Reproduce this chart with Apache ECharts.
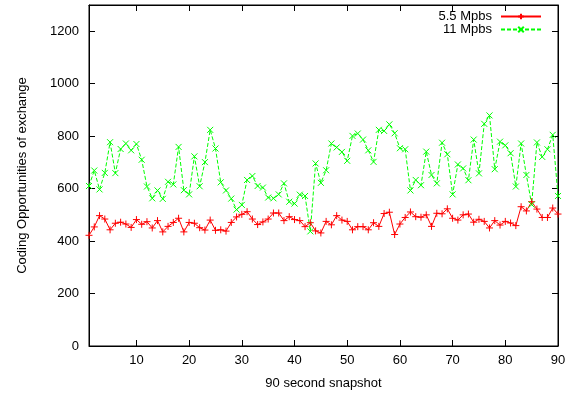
<!DOCTYPE html>
<html>
<head>
<meta charset="utf-8">
<script src="https://cdn.jsdelivr.net/npm/echarts@6/dist/echarts.min.js"></script>
<style>
  html, body { margin: 0; padding: 0; background: #fff; }
  #chart { width: 580px; height: 399px; }
</style>
</head>
<body>
<div id="chart"></div>
<script>
// snapshot index 1..90
const snapshots = Array.from({ length: 90 }, (_, i) => i + 1);

const rate55 = [
  422, 454, 497, 484, 443, 468, 472, 465, 452, 482,
  464, 474, 450, 478, 435, 456, 471, 487, 435, 471,
  468, 451, 442, 480, 441, 443, 438, 471, 492, 502,
  512, 484, 463, 473, 484, 507, 507, 478, 493, 482,
  478, 455, 470, 439, 431, 475, 462, 497, 480, 475,
  443, 455, 455, 443, 470, 456, 505, 510, 425, 465,
  490, 511, 493, 491, 500, 456, 506, 504, 523, 487,
  480, 500, 503, 472, 483, 475, 450, 478, 461, 475,
  469, 459, 531, 515, 550, 522, 490, 490, 526, 503
];

const rate11 = [
  610, 669, 597, 660, 777, 659, 751, 772, 746, 770,
  710, 608, 563, 593, 561, 626, 616, 759, 594, 578,
  723, 609, 701, 824, 753, 624, 593, 562, 520, 538,
  633, 648, 610, 604, 566, 563, 578, 620, 550, 543,
  577, 572, 437, 696, 622, 670, 772, 757, 740, 706,
  801, 810, 787, 746, 702, 824, 820, 845, 811, 754,
  750, 593, 633, 613, 741, 652, 620, 775, 731, 578,
  692, 677, 632, 787, 658, 847, 879, 674, 779, 765,
  735, 608, 772, 652, 539, 776, 721, 750, 805, 572
];

const xTicks = [10, 20, 30, 40, 50, 60, 70, 80, 90];
const yTicks = [0, 200, 400, 600, 800, 1000, 1200];

const font = "'Liberation Sans', Arial, Helvetica, sans-serif";
const plusSym = 'path://M0,5L10,5M5,0L5,10';
const crossSym = 'path://M0,0L10,10M10,0L0,10';

const chart = echarts.init(document.getElementById('chart'));

const frameAxis = (extra) => Object.assign({
  type: 'value',
  axisLine: { show: true, onZero: false, lineStyle: { color: '#000', width: 1 } },
  splitLine: { show: false },
  nameTextStyle: { color: '#000', fontSize: 13, fontFamily: font }
}, extra);

chart.setOption({
  animation: false,
  backgroundColor: '#fff',
  textStyle: { fontFamily: font },
  grid: {
    left: 89, right: 22, top: 5, bottom: 53,
    show: true, borderColor: '#000', borderWidth: 1
  },
  legend: {
    right: 33,
    top: 5,
    orient: 'vertical',
    align: 'right',
    itemWidth: 40,
    itemHeight: 7,
    itemGap: 0,
    textStyle: { color: '#000', fontSize: 13, lineHeight: 13, fontFamily: font, padding: [0, 4, 0, 0] },
    data: ['5.5 Mpbs', '11 Mpbs']
  },
  xAxis: [
    frameAxis({
      min: 1, max: 90, position: 'bottom',
      name: '90 second snapshot', nameLocation: 'middle', nameGap: 31,
      axisTick: { inside: true, length: 6, customValues: xTicks, lineStyle: { color: '#000' } },
      axisLabel: { customValues: xTicks, color: '#000', fontSize: 13, margin: 8, fontFamily: font }
    }),
    frameAxis({
      min: 1, max: 90, position: 'top',
      axisTick: { inside: true, length: 6, customValues: xTicks, lineStyle: { color: '#000' } },
      axisLabel: { show: false }
    })
  ],
  yAxis: [
    frameAxis({
      min: 0, max: 1300, position: 'left',
      name: 'Coding Opportunities of exchange', nameLocation: 'middle', nameGap: 60,
      axisTick: { inside: true, length: 6, customValues: yTicks, lineStyle: { color: '#000' } },
      axisLabel: {
        customValues: yTicks, color: '#000', fontSize: 13, margin: 10, fontFamily: font,
        formatter: (v) => String(v)
      }
    }),
    frameAxis({
      min: 0, max: 1300, position: 'right',
      axisTick: { inside: true, length: 6, customValues: yTicks, lineStyle: { color: '#000' } },
      axisLabel: { show: false }
    })
  ],
  series: [
    {
      name: '5.5 Mpbs',
      type: 'line',
      xAxisIndex: 0, yAxisIndex: 0,
      data: snapshots.map((x, i) => [x, rate55[i]]),
      symbol: plusSym,
      symbolSize: 7,
      lineStyle: { color: '#ff0000', width: 1 },
      itemStyle: { color: '#ff0000', borderColor: '#ff0000', borderWidth: 1 }
    },
    {
      name: '11 Mpbs',
      type: 'line',
      xAxisIndex: 0, yAxisIndex: 0,
      data: snapshots.map((x, i) => [x, rate11[i]]),
      symbol: crossSym,
      symbolSize: 6,
      lineStyle: { color: '#00ff00', width: 1, type: [4, 2] },
      itemStyle: { color: '#00ff00', borderColor: '#00ff00', borderWidth: 1 }
    }
  ]
});
</script>
</body>
</html>
